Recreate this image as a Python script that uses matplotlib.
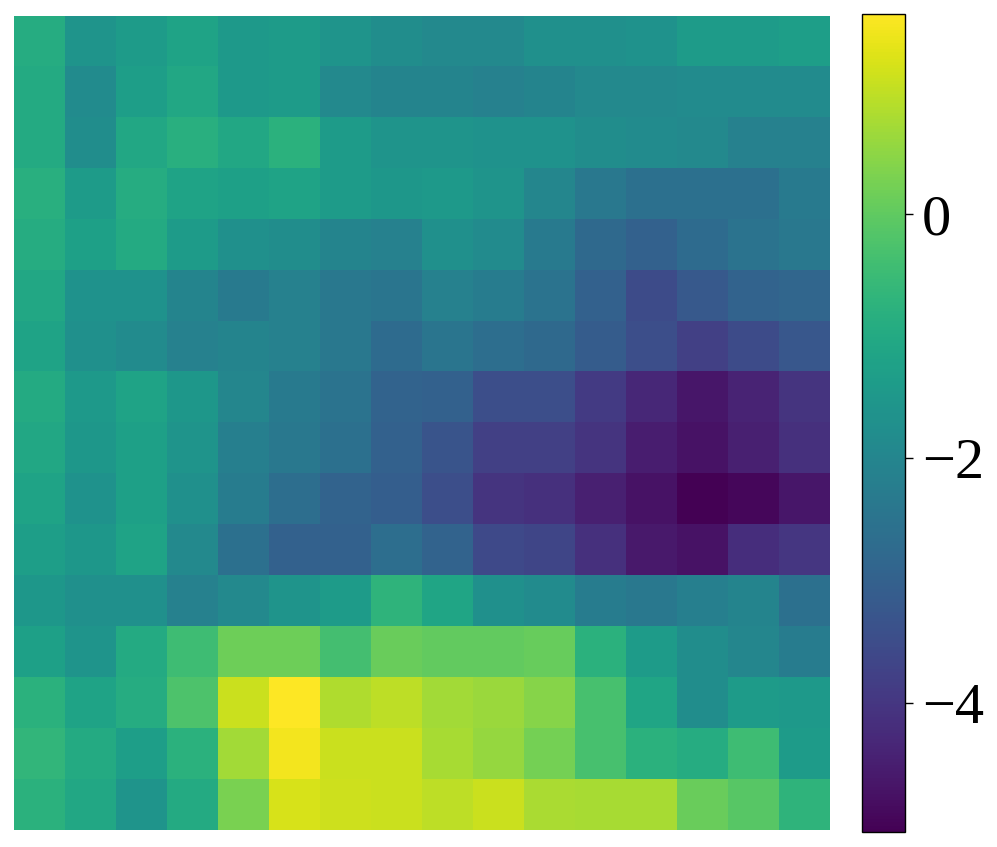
import numpy as np
import matplotlib
matplotlib.use("Agg")
import matplotlib.pyplot as plt

# 16x16 grid, values (top row first)
row_00 = [-0.91, -1.58, -1.37, -1.17, -1.44, -1.37, -1.58, -1.78, -1.91, -1.91, -1.71, -1.71, -1.64, -1.37, -1.37, -1.31]
row_01 = [-0.97, -1.84, -1.31, -1.04, -1.44, -1.37, -1.91, -2.05, -2.05, -2.11, -2.05, -1.91, -1.91, -1.84, -1.84, -1.84]
row_02 = [-0.97, -1.78, -1.04, -0.84, -1.04, -0.77, -1.37, -1.58, -1.58, -1.64, -1.64, -1.78, -1.84, -1.91, -2.11, -2.11]
row_03 = [-0.84, -1.37, -0.91, -1.17, -1.24, -1.17, -1.37, -1.51, -1.44, -1.58, -1.98, -2.38, -2.58, -2.58, -2.58, -2.31]
row_04 = [-0.91, -1.24, -0.97, -1.37, -1.71, -1.78, -2.05, -2.11, -1.71, -1.84, -2.31, -2.78, -2.98, -2.72, -2.51, -2.38]
row_05 = [-1.04, -1.64, -1.64, -2.05, -2.31, -2.11, -2.38, -2.45, -2.11, -2.25, -2.51, -2.98, -3.52, -3.18, -2.92, -2.85]
row_06 = [-1.17, -1.71, -1.84, -2.11, -2.05, -2.11, -2.38, -2.72, -2.45, -2.65, -2.78, -3.12, -3.45, -3.79, -3.52, -3.25]
row_07 = [-0.97, -1.44, -1.17, -1.51, -1.98, -2.31, -2.51, -2.92, -2.98, -3.45, -3.45, -3.92, -4.32, -4.66, -4.39, -4.06]
row_08 = [-1.04, -1.51, -1.24, -1.58, -2.18, -2.38, -2.58, -2.98, -3.32, -3.79, -3.79, -4.06, -4.52, -4.73, -4.46, -4.12]
row_09 = [-1.17, -1.64, -1.24, -1.71, -2.25, -2.65, -2.92, -3.05, -3.45, -4.06, -4.12, -4.46, -4.73, -5.06, -4.93, -4.66]
row_10 = [-1.31, -1.51, -1.17, -1.91, -2.58, -2.98, -2.98, -2.65, -2.92, -3.59, -3.65, -4.12, -4.59, -4.73, -4.19, -3.99]
row_11 = [-1.51, -1.71, -1.71, -2.11, -1.91, -1.58, -1.37, -0.70, -1.11, -1.71, -1.84, -2.25, -2.38, -2.18, -2.05, -2.58]
row_12 = [-1.24, -1.58, -0.97, -0.44, 0.17, 0.17, -0.37, 0.10, 0.03, 0.03, 0.07, -0.77, -1.37, -1.78, -1.98, -2.25]
row_13 = [-0.77, -1.17, -0.91, -0.24, 1.10, 1.64, 0.84, 0.97, 0.70, 0.64, 0.43, -0.30, -1.11, -1.78, -1.37, -1.44]
row_14 = [-0.64, -0.97, -1.31, -0.77, 0.70, 1.51, 1.10, 1.10, 0.77, 0.57, 0.23, -0.30, -0.77, -0.91, -0.44, -1.37]
row_15 = [-0.77, -1.04, -1.58, -0.97, 0.30, 1.24, 1.14, 1.10, 0.97, 1.10, 0.80, 0.77, 0.77, 0.10, -0.10, -0.70]

grid = np.array([row_00, row_01, row_02, row_03, row_04, row_05, row_06, row_07,
                 row_08, row_09, row_10, row_11, row_12, row_13, row_14, row_15])

cbar_ticks = [0, -2, -4]

fig = plt.figure(figsize=(9.97, 8.47), dpi=100)
ax = fig.add_axes([14 / 997, 17 / 847, 815 / 997, 814 / 847])
im = ax.imshow(grid, cmap="viridis", aspect="auto", interpolation="nearest")
ax.axis("off")

cax = fig.add_axes([862 / 997, 15 / 847, 43 / 997, 818 / 847])
cb = fig.colorbar(im, cax=cax, ticks=cbar_ticks)
cb.outline.set_linewidth(1.0)
cax.tick_params(labelsize=42, length=6, width=1, pad=6)
for lab in cax.get_yticklabels():
    lab.set_family(["Liberation Serif", "DejaVu Serif"])

fig.savefig("out.png", dpi=100)
